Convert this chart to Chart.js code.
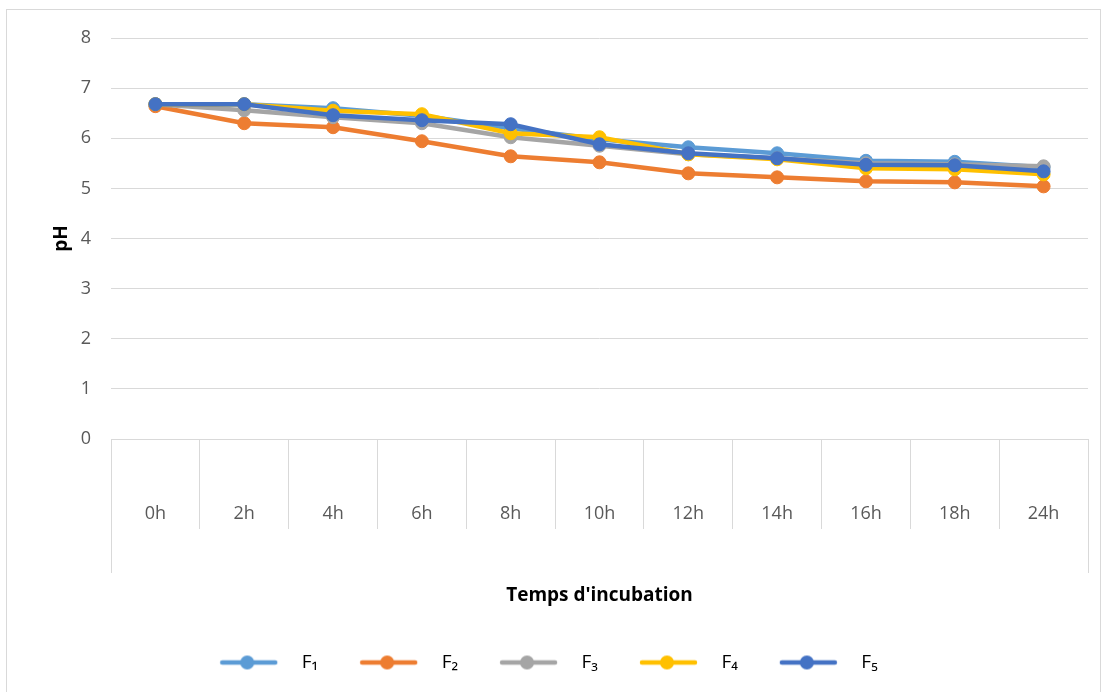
<!DOCTYPE html>
<html>
<head>
<meta charset="utf-8">
<script src="https://cdn.jsdelivr.net/npm/chart.js@4.4.0/dist/chart.umd.min.js"></script>
<style>
  html, body { margin: 0; padding: 0; background: #fff; }
  #wrap { position: relative; width: 1105px; height: 692px; overflow: hidden; }
  #frame { position: absolute; left: 6px; top: 9px; width: 1093px; height: 720px; border: 1px solid #d9d9d9; pointer-events: none; }
  canvas { position: absolute; left: 0; top: 0; }
</style>
</head>
<body>
<div id="wrap">
  <canvas id="chart" width="1105" height="692"></canvas>
  <div id="frame"></div>
</div>
<script>
const labels = ["0h", "2h", "4h", "6h", "8h", "10h", "12h", "14h", "16h", "18h", "24h"];
const seriesNames = ["F\u2081", "F\u2082", "F\u2083", "F\u2084", "F\u2085"];
const f1 = [6.68, 6.68, 6.60, 6.45, 6.20, 5.98, 5.82, 5.70, 5.55, 5.53, 5.42];
const f2 = [6.64, 6.30, 6.22, 5.94, 5.64, 5.52, 5.30, 5.22, 5.14, 5.12, 5.04];
const f3 = [6.68, 6.56, 6.42, 6.30, 6.02, 5.85, 5.68, 5.60, 5.50, 5.48, 5.44];
const f4 = [6.68, 6.68, 6.55, 6.48, 6.10, 6.02, 5.68, 5.58, 5.40, 5.38, 5.28];
const f5 = [6.68, 6.68, 6.46, 6.36, 6.28, 5.88, 5.70, 5.60, 5.47, 5.46, 5.34];
const colors = ["#5B9BD5", "#ED7D31", "#A5A5A5", "#FFC000", "#4472C4"];

const FONT = '"Open Sans", "DejaVu Sans", sans-serif';
const GRID = "#d9d9d9";
const ICON_W = 104;

// legend marker: line with a dot, drawn into a small canvas
function legendIcon(color) {
  const c = document.createElement("canvas");
  c.width = ICON_W; c.height = 16;
  const g = c.getContext("2d");
  g.strokeStyle = color;
  g.lineWidth = 4.5;
  g.lineCap = "round";
  g.beginPath();
  g.moveTo(ICON_W - 70, 8); g.lineTo(ICON_W - 17, 8);
  g.stroke();
  g.fillStyle = color;
  g.beginPath();
  g.arc(ICON_W - 45, 8, 7, 0, Math.PI * 2);
  g.fill();
  return c;
}

const allSeries = [f1, f2, f3, f4, f5];
const datasets = allSeries.map((vals, i) => ({
  label: seriesNames[i],
  data: vals,
  borderColor: colors[i],
  backgroundColor: colors[i],
  pointBackgroundColor: colors[i],
  pointBorderColor: colors[i],
  pointRadius: 6.5,
  pointBorderWidth: 1,
  borderWidth: 4.5,
  tension: 0,
  order: allSeries.length - i, // later series on top, like Excel
}));

// edges of the category box below the axis, and a small legend nudge
const edgeLines = {
  id: "edgeLines",
  afterLayout(chart) {
    chart.legend.left -= 11;
    chart.legend.right -= 11;
  },
  afterDraw(chart) {
    const { ctx, chartArea } = chart;
    ctx.save();
    ctx.strokeStyle = GRID;
    ctx.lineWidth = 1;
    [chartArea.left, chartArea.right].forEach(x => {
      const px = Math.round(x) + 0.5;
      ctx.beginPath();
      ctx.moveTo(px, chartArea.bottom + 90);
      ctx.lineTo(px, chartArea.bottom + 134);
      ctx.stroke();
    });
    ctx.restore();
  }
};

new Chart(document.getElementById("chart"), {
  type: "line",
  data: { labels: labels, datasets: datasets },
  options: {
    responsive: false,
    animation: false,
    layout: { padding: { left: 0, right: 17, top: 38, bottom: 10 } },
    plugins: {
      tooltip: { enabled: false },
      legend: {
        position: "bottom",
        labels: {
          usePointStyle: true,
          pointStyleWidth: ICON_W,
          boxHeight: 16,
          padding: 10,
          color: "#000",
          font: { family: FONT, size: 19 },
          sort: (a, b) => a.datasetIndex - b.datasetIndex,
          generateLabels: chart => chart.data.datasets.map((ds, i) => ({
            text: ds.label,
            fillStyle: ds.borderColor,
            strokeStyle: ds.borderColor,
            lineWidth: 0,
            pointStyle: legendIcon(ds.borderColor),
            hidden: false,
            datasetIndex: i,
          })),
        },
      },
    },
    scales: {
      x: {
        offset: true,
        grid: {
          offset: true,
          drawOnChartArea: false,
          drawTicks: true,
          tickLength: 90,
          color: GRID,
        },
        border: { display: true, color: GRID },
        ticks: {
          padding: -26,
          color: "#595959",
          font: { family: FONT, size: 18 },
          maxRotation: 0,
        },
        title: {
          display: true,
          text: "Temps d'incubation",
          color: "#000",
          font: { family: FONT, size: 19, weight: "bold" },
          padding: { top: 0, bottom: 36 },
        },
        afterFit(scale) { scale.height = 204; },
      },
      y: {
        min: 0,
        max: 8,
        grid: { color: GRID, drawTicks: false },
        border: { display: false },
        ticks: {
          stepSize: 1,
          padding: 20,
          color: "#595959",
          font: { family: FONT, size: 18 },
        },
        title: {
          display: true,
          text: "pH",
          color: "#000",
          font: { family: FONT, size: 19, weight: "bold" },
          padding: { top: 50, bottom: 0 },
        },
        afterFit(scale) { scale.width = 111; },
      },
    },
  },
  plugins: [edgeLines],
});
</script>
</body>
</html>
